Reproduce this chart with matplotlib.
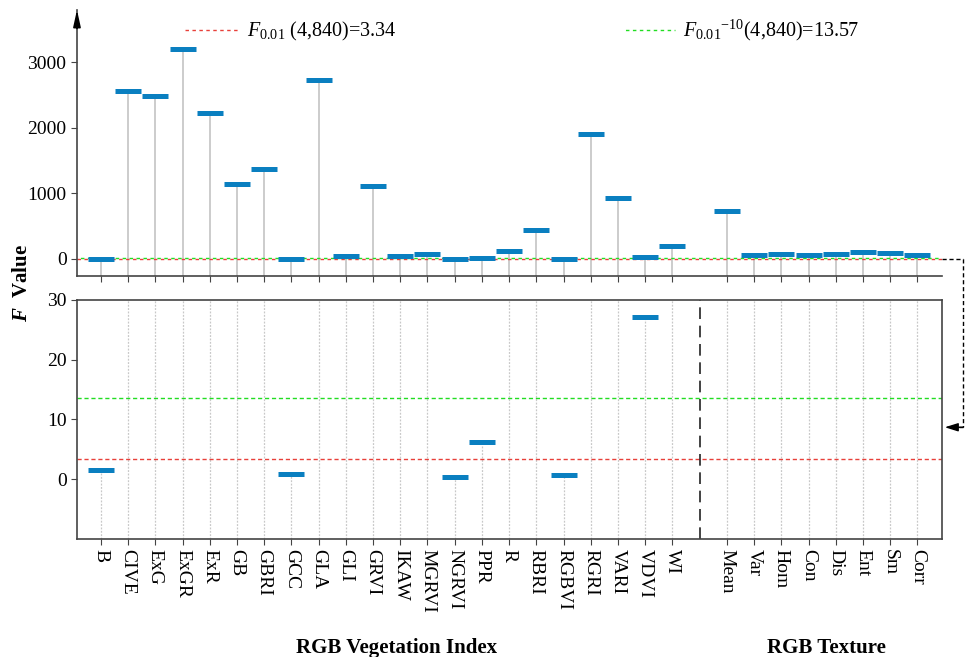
import matplotlib
matplotlib.use("Agg")
import matplotlib.pyplot as plt
from matplotlib.lines import Line2D
import numpy as np

plt.rcParams['font.family'] = ['Liberation Serif', 'DejaVu Serif']
plt.rcParams['mathtext.fontset'] = 'custom'
plt.rcParams['mathtext.rm'] = 'Liberation Serif'
plt.rcParams['mathtext.it'] = 'Liberation Serif:italic'
plt.rcParams['mathtext.bf'] = 'Liberation Serif:bold'
plt.rcParams['mathtext.bfit'] = 'Liberation Serif:bold:italic'

veg_names = ['B', 'CIVE', 'ExG', 'ExGR', 'ExR', 'GB', 'GBRI', 'GCC', 'GLA', 'GLI',
             'GRVI', 'IKAW', 'MGRVI', 'NGRVI', 'PPR', 'R', 'RBRI', 'RGBVI', 'RGRI',
             'VARI', 'VDVI', 'WI']
veg_f = [1.5, 2565, 2478, 3197, 2225, 1146, 1368, 0.8, 2726, 41,
         1105, 41, 81, 0.4, 6.2, 122, 436, 0.7, 1900,
         922, 27.2, 204]
tex_names = ['Mean', 'Var', 'Hom', 'Con', 'Dis', 'Ent', 'Sm', 'Corr']
tex_f = [725, 52, 82, 56, 76, 102, 97, 61]

f_crit = 3.34
f_crit_bonf = 13.57

names = veg_names + tex_names
values = np.array(veg_f + tex_f)
pos = np.concatenate([np.arange(len(veg_names)),
                      np.arange(len(tex_names)) + len(veg_names) + 1])
split_x = len(veg_names)

blue = '#0a7fc0'
stem_c = '#c4c4c4'
spine_c = '#444444'
red = '#e8403a'
green = '#22dd22'

fig = plt.figure(figsize=(9.67, 6.57), dpi=100)
ax1 = fig.add_axes([0.0796, 0.580, 0.8944, 0.405])
ax2 = fig.add_axes([0.0796, 0.1796, 0.8944, 0.3638])

xlim = (-0.88, 30.9)

# top panel
ax1.vlines(pos, -260, values, color=stem_c, lw=1.2, zorder=1)
ax1.plot(pos, values, ls='none', marker='_', ms=19, mew=3.6, color=blue, zorder=3)
h_red = ax1.axhline(f_crit, color=red, ls=(0, (2.5, 2.5)), lw=1.0, zorder=2)
h_green = ax1.axhline(f_crit_bonf, color=green, ls=(2.5, (2.5, 2.5)), lw=1.0, zorder=2)
ax1.set_xlim(xlim)
ax1.set_ylim(-260, 3800)
ax1.set_yticks([0, 1000, 2000, 3000])
ax1.set_xticks(pos)
ax1.set_xticklabels([])
for s in ['top', 'right']:
    ax1.spines[s].set_visible(False)
for s in ['left', 'bottom']:
    ax1.spines[s].set_color(spine_c)
    ax1.spines[s].set_linewidth(1.2)
ax1.tick_params(axis='both', direction='out', length=4, color=spine_c, labelsize=14)
ax1.annotate('', xy=(0, 1.0), xytext=(0, 0.93), xycoords='axes fraction',
             arrowprops=dict(arrowstyle='-|>,head_length=1.0,head_width=0.22',
                             color='black', lw=1.2, shrinkA=0, shrinkB=0))

# bottom panel
ax2.vlines(pos, -10, values, color='#c8c8c8', lw=0.9, ls=(0, (1.5, 1.2)), zorder=1)
ax2.plot(pos, values, ls='none', marker='_', ms=19, mew=3.6, color=blue, zorder=3)
ax2.axhline(f_crit, color=red, ls=(0, (3, 2)), lw=1.0, zorder=2)
ax2.axhline(f_crit_bonf, color=green, ls=(0, (3, 2)), lw=1.0, zorder=2)
ax2.axvline(split_x, color='#222222', ls=(0, (7, 4)), lw=1.2, zorder=2)
ax2.set_xlim(xlim)
ax2.set_ylim(-10, 30)
ax2.set_yticks([0, 10, 20, 30])
ax2.set_xticks(pos)
ax2.set_xticklabels(names, rotation=270, fontsize=14)
for s in ax2.spines.values():
    s.set_color(spine_c)
    s.set_linewidth(1.2)
ax2.tick_params(axis='both', direction='out', length=4, color=spine_c, labelsize=14)

# bracket from top-panel zero line down to bottom panel
to_fig = fig.transFigure.inverted()
p0 = to_fig.transform(ax1.transData.transform((xlim[1], 0)))
p1 = to_fig.transform(ax2.transData.transform((xlim[1], 8.7)))
xr = 963 / 967
fig.add_artist(Line2D([p0[0], xr, xr], [p0[1], p0[1], p1[1]], transform=fig.transFigure,
                      color='black', ls=(0, (3, 2)), lw=1.0))
fig.add_artist(Line2D([xr, p1[0] + 0.012], [p1[1], p1[1]], transform=fig.transFigure,
                      color='black', ls=(0, (3, 2)), lw=1.0))
ax2.annotate('', xy=(p1[0] + 0.003, p1[1]), xytext=(p1[0] + 0.022, p1[1]),
             xycoords='figure fraction', textcoords='figure fraction',
             arrowprops=dict(arrowstyle='-|>,head_length=0.8,head_width=0.25',
                             color='black', lw=1.0, shrinkA=0, shrinkB=0))

# legend
fig.legend([h_red, h_green],
           [r'$\mathit{F}_{0.01}$ (4,840)=3.34', r'$\mathit{F}_{0.01}{}^{-10}$(4,840)=13.57'],
           loc='upper left', bbox_to_anchor=(0.173, 1.0), ncol=2, frameon=False,
           fontsize=14.5, handlelength=2.65, handletextpad=0.4, columnspacing=11.2)

fig.text(0.023, 0.57, r'$\mathbfit{F}$  Value', rotation=90, fontsize=15,
         fontweight='bold', ha='center', va='center')
fig.text(0.41, 0.006, 'RGB Vegetation Index', fontsize=15, fontweight='bold', ha='center')
fig.text(0.855, 0.006, 'RGB Texture', fontsize=15, fontweight='bold', ha='center')

fig.savefig('out.png', dpi=100)
